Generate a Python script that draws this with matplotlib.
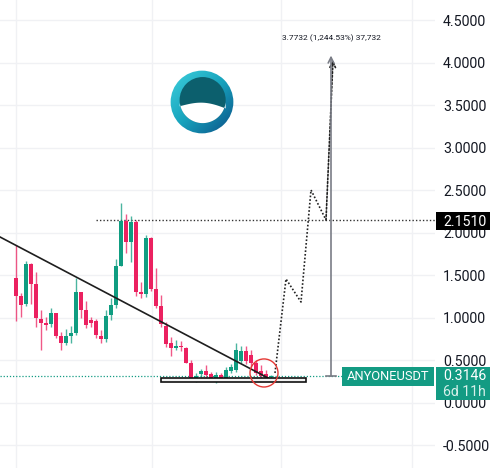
import numpy as np
import matplotlib
matplotlib.use('Agg')
import matplotlib.pyplot as plt
from matplotlib.patches import Rectangle, Ellipse, Circle, Polygon
from matplotlib.colors import LinearSegmentedColormap

# candles (one every bar index)
opens = [1.471, 1.259, 1.165, 1.635, 1.400, 0.988, 0.941, 0.929, 1.059, 0.788,
         0.706, 0.788, 0.824, 1.306, 1.094, 0.976, 0.965, 0.788, 0.753, 1.035,
         1.153, 1.612, 2.141, 1.894, 2.129, 1.306, 1.282, 1.941, 1.341, 1.141,
         0.906, 0.706, 0.647, 0.671, 0.647, 0.471, 0.282, 0.341, 0.376, 0.341,
         0.294, 0.329, 0.294, 0.376, 0.388, 0.494, 0.612, 0.565, 0.471, 0.376,
         0.341, 0.306]
highs = [1.859, 1.294, 1.671, 1.647, 1.541, 1.094, 1.012, 1.118, 1.059, 0.835,
         0.871, 0.906, 1.471, 1.306, 1.200, 1.012, 0.988, 0.859, 1.094, 1.235,
         1.694, 2.353, 2.224, 2.200, 2.153, 1.424, 1.976, 1.953, 1.588, 1.271,
         0.953, 0.776, 0.741, 0.729, 0.659, 0.506, 0.353, 0.400, 0.447, 0.365,
         0.365, 0.353, 0.424, 0.459, 0.706, 0.671, 0.671, 0.624, 0.506, 0.447,
         0.388, 0.329]
lows = [0.965, 1.012, 1.141, 1.165, 0.894, 0.624, 0.859, 0.894, 0.765, 0.624,
        0.682, 0.706, 0.800, 1.000, 0.882, 0.894, 0.765, 0.706, 0.718, 0.976,
        1.118, 1.612, 1.765, 1.659, 1.259, 1.235, 1.247, 1.318, 1.118, 0.894,
        0.659, 0.553, 0.624, 0.612, 0.471, 0.271, 0.247, 0.306, 0.306, 0.271,
        0.235, 0.271, 0.282, 0.353, 0.365, 0.471, 0.459, 0.424, 0.329, 0.294,
        0.271, 0.294]
closes = [1.259, 1.153, 1.635, 1.400, 1.000, 0.941, 0.918, 1.059, 0.788, 0.706,
          0.788, 0.824, 1.306, 1.094, 0.918, 0.941, 0.800, 0.753, 1.024, 1.153,
          1.612, 2.141, 1.894, 2.129, 1.306, 1.282, 1.941, 1.341, 1.141, 0.929,
          0.694, 0.647, 0.671, 0.659, 0.471, 0.282, 0.318, 0.376, 0.329, 0.294,
          0.329, 0.294, 0.388, 0.424, 0.624, 0.612, 0.494, 0.471, 0.353, 0.318,
          0.294, 0.3146]

# drawings on the chart
trend_x = [-3.2, 50.8]
trend_y = [1.953, 0.282]
proj_x = [51.8, 54.0, 57.0, 59.0, 62.0, 63.4]
proj_y = [0.353, 1.459, 1.188, 2.506, 2.153, 4.035]
resistance = 2.1510
resistance_start = 16
last_price = 0.3146
measure_x = 63
measure_top = 4.0878
base_box = [29, 58, 0.247, 0.294]      # x0, x1, y0, y1
circle_center = (49.6, 0.353)

yticks = [-0.5, 0.0, 0.5, 1.0, 1.5, 2.0, 2.5, 3.0, 3.5, 4.0, 4.5]
ytick_labels = ['-0.5000', '0.0000', '0.5000', '1.0000', '1.5000', '2.0000',
                '2.5000', '3.0000', '3.5000', '4.0000', '4.5000']
vgrid = [0, 27.2, 53, 79.2]

W, H = 500, 468
UP = '#0f9d81'
DOWN = '#eb2160'
TEAL = '#139b83'
LABEL_SIZE = 10.2

plt.rcParams['font.family'] = ['Roboto', 'DejaVu Sans']


def fig_box(fig, x0, y0, x1, y1, color):
    # rectangle given in pixel coordinates (origin top left)
    fig.add_artist(Rectangle((x0 / W, 1 - y1 / H), (x1 - x0) / W, (y1 - y0) / H,
                             transform=fig.transFigure, fc=color, ec='none', zorder=5))


def draw_logo(fig):
    lax = fig.add_axes([170 / W, 1 - 134 / H, 64 / W, 64 / H])
    lax.set_xlim(-1, 1)
    lax.set_ylim(-1, 1)
    lax.axis('off')
    cmap = LinearSegmentedColormap.from_list('logo', ['#3fd0dc', '#17a3bd', '#0b4f86'])
    gx, gy = np.meshgrid(np.linspace(-1, 1, 100), np.linspace(1, -1, 100))
    im = lax.imshow(gx - gy, extent=[-1, 1, -1, 1], cmap=cmap, origin='upper')
    ring = Circle((0, 0), 0.98, transform=lax.transData)
    im.set_clip_path(ring)
    lax.add_patch(Circle((0.02, 0.06), 0.72, fc='#0c5f6d', ec='none'))
    xs = np.linspace(-0.70, 0.74, 60)
    top = -0.16 + 0.14 * np.cos(np.pi * (xs - 0.05) / 1.4) - 0.06 * xs
    ang = np.linspace(np.pi + 0.14, 2 * np.pi - 0.1, 60)
    arc_x = 0.02 + 0.72 * np.cos(ang)
    arc_y = 0.06 + 0.72 * np.sin(ang)
    pts = np.column_stack([np.r_[xs, arc_x[::-1]], np.r_[top, arc_y[::-1]]])
    lax.add_patch(Polygon(pts, closed=True, fc='white', ec='none'))


def main():
    fig = plt.figure(figsize=(W / 100, H / 100), dpi=100)
    fig.patch.set_facecolor('white')
    ax = fig.add_axes([0, 0, 435 / W, 1])
    ax.set_xlim(-3.2, 83.8)
    ax.set_ylim(-0.765, 4.741)

    # grid
    for g in yticks:
        ax.axhline(g, color='#f0f1f4', lw=1, zorder=0)
    for g in vgrid:
        ax.axvline(g, color='#f0f1f4', lw=1, zorder=0)

    # candles
    idx = np.arange(len(opens))
    o = np.array(opens)
    c = np.array(closes)
    colors = [UP if c[i] >= o[i] else DOWN for i in idx]
    ax.vlines(idx, lows, highs, colors=colors, lw=1, alpha=0.75, zorder=2)
    body = np.maximum(np.abs(c - o), 0.012)
    ax.bar(idx, body, bottom=np.minimum(o, c), width=0.75, color=colors, zorder=3)

    # lines and shapes
    ax.plot(trend_x, trend_y, color='#1e1e1e', lw=1.2, zorder=4)
    ax.plot([resistance_start, 83.8], [resistance, resistance], color='#333333',
            lw=1, ls=(0, (1, 1.5)), zorder=1)
    ax.plot([-3.2, 65.2], [last_price, last_price], color=TEAL, lw=0.9,
            ls=(0, (1, 1.5)), zorder=1)
    ax.plot(proj_x[:-1], proj_y[:-1], color='#222222', lw=1.2, ls=(0, (1, 1.2)), zorder=4)
    ax.annotate('', xy=(proj_x[-1], proj_y[-1]), xytext=(proj_x[-2], proj_y[-2]),
                arrowprops=dict(arrowstyle='->', color='#222222', lw=1.2,
                                ls=(0, (1, 1.2)), shrinkA=0, shrinkB=0), zorder=4)
    ax.annotate('', xy=(measure_x, measure_top), xytext=(measure_x, last_price),
                arrowprops=dict(arrowstyle='->', color='#7a7d86', lw=1.2,
                                shrinkA=0, shrinkB=0), zorder=4)
    ax.plot([measure_x - 1, measure_x + 1], [last_price, last_price], color='#7a7d86', lw=1.2)
    ax.text(measure_x, measure_top + 0.2,
            '%.4f (1,244.53%%) 37,732' % (measure_top - last_price),
            ha='center', va='center', fontsize=6, color='#131722')
    bx0, bx1, by0, by1 = base_box
    ax.add_patch(Rectangle((bx0, by0), bx1 - bx0, by1 - by0, fc='#f2f2f2',
                           ec='#111111', lw=1.2, zorder=5))
    ax.add_patch(Ellipse(circle_center, 5.6, 0.33, fc='none', ec='#e53935', lw=1, zorder=6))

    # price scale on the right
    for s in ax.spines.values():
        s.set_visible(False)
    ax.set_xticks([])
    ax.yaxis.tick_right()
    ax.set_yticks(yticks)
    ax.set_yticklabels(ytick_labels)
    ax.tick_params(axis='y', length=0, pad=5.8, labelsize=LABEL_SIZE, labelcolor='#131722')

    # price tags
    fig_box(fig, 436, 212, 490, 230, '#000000')
    fig.text(443 / W, 1 - 221.5 / H, '%.4f' % resistance, color='white', fontsize=LABEL_SIZE,
             va='center', ha='left', zorder=6)
    fig_box(fig, 342, 367, 434, 386, TEAL)
    fig.text(388 / W, 1 - 376.5 / H, 'ANYONEUSDT', color='white', fontsize=9.3,
             va='center', ha='center', zorder=6)
    fig_box(fig, 436, 367, 490, 400, TEAL)
    fig.text(443 / W, 1 - 376.5 / H, '%.4f' % last_price, color='white', fontsize=LABEL_SIZE,
             va='center', ha='left', zorder=6)
    fig.text(443 / W, 1 - 391.5 / H, '6d 11h', color='#d6f0ea', fontsize=LABEL_SIZE,
             va='center', ha='left', zorder=6)

    draw_logo(fig)
    fig.savefig('out.png', dpi=100)


if __name__ == '__main__':
    main()
